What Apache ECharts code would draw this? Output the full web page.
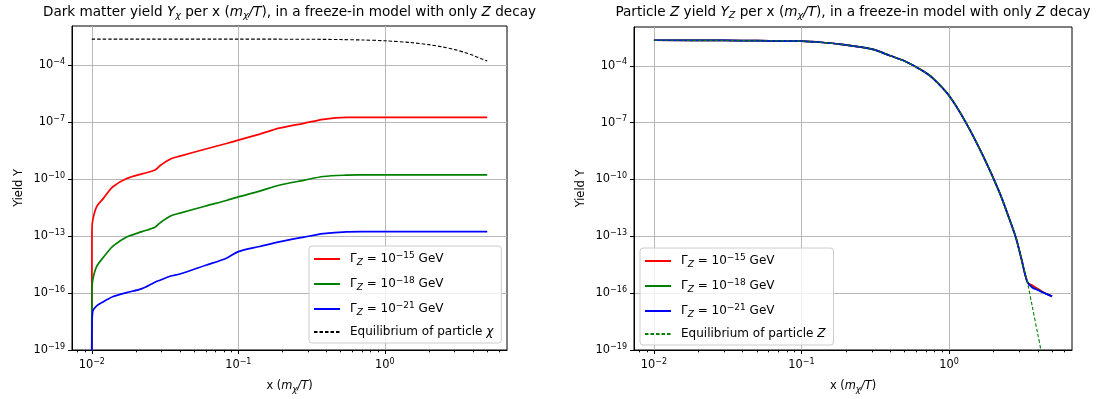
<!DOCTYPE html>
<html>
<head>
<meta charset="utf-8">
<script src="https://cdn.jsdelivr.net/npm/echarts@6/dist/echarts.min.js"></script>
<style>
  html, body { margin: 0; padding: 0; background: #fff; }
  #chart { width: 1115px; height: 399px; }
</style>
</head>
<body>
<div id="chart"></div>
<script>
  // y is drawn as log10(Y) - Y_FLOOR so that the 10^-19 floor sits at 0
  const Y_FLOOR = -19;
  const Y_TOP = -1.95;
  const X_MIN = -2.135;
  const X_MAX = 0.834;

  const yTicks = [-19, -16, -13, -10, -7, -4];
  const xTicks = [0.01, 0.1, 1];
  const xMinorTicks = [0.008, 0.009, 0.02, 0.03, 0.04, 0.05, 0.06, 0.07, 0.08, 0.09,
    0.2, 0.3, 0.4, 0.5, 0.6, 0.7, 0.8, 0.9, 2, 3, 4, 5, 6];

  // left panel: dark matter yield
  const xDm = [0.01, 0.01003, 0.01016, 0.0108, 0.012, 0.0127, 0.014, 0.0173, 0.022, 0.027,
    0.0292, 0.0342, 0.04, 0.06, 0.083, 0.1, 0.14, 0.19, 0.28, 0.38, 0.55, 0.7, 1, 2, 3, 4, 5];
  const yDm15 = [1e-20, 2e-13, 7e-13, 3.5e-12, 9.5e-12, 1.7e-11, 4.0e-11, 1.05e-10, 1.85e-10, 2.95e-10,
    5e-10, 1.1e-9, 1.6e-9, 3.8e-9, 7.4e-9, 1.1e-8, 2.3e-8, 4.7e-8, 8.5e-8, 1.38e-7, 1.74e-7, 1.76e-7,
    1.76e-7, 1.76e-7, 1.76e-7, 1.76e-7, 1.76e-7];
  const yDm18 = [1e-20, 1.5e-16, 5e-16, 2.5e-15, 7.5e-15, 1.3e-14, 3.0e-14, 8.8e-14, 1.7e-13, 2.9e-13,
    4.9e-13, 1.1e-12, 1.6e-12, 3.8e-12, 7.4e-12, 1.15e-11, 2.3e-11, 4.7e-11, 8.5e-11, 1.35e-10, 1.6e-10,
    1.64e-10, 1.65e-10, 1.65e-10, 1.65e-10, 1.65e-10, 1.65e-10];
  const yDm21 = [1e-20, 1.2e-18, 1.1e-17, 2.1e-17, 3.5e-17, 4.5e-17, 6.5e-17, 1.05e-16, 1.7e-16, 3.7e-16,
    4.7e-16, 7.6e-16, 1.0e-15, 2.9e-15, 6.8e-15, 1.5e-14, 2.8e-14, 4.9e-14, 8.7e-14, 1.32e-13, 1.66e-13,
    1.7e-13, 1.7e-13, 1.7e-13, 1.7e-13, 1.7e-13, 1.7e-13];
  const xDmEq = [0.01, 0.1, 0.3, 0.5, 0.7, 1, 1.5, 2, 2.5, 3, 3.5, 4, 4.5, 5];
  const yDmEq = [2.3e-3, 2.29e-3, 2.25e-3, 2.17e-3, 2.06e-3, 1.87e-3, 1.51e-3, 1.17e-3, 8.7e-4, 6.4e-4,
    4.6e-4, 3.2e-4, 2.2e-4, 1.6e-4];

  // right panel: particle Z yield
  const xZ = [0.01, 0.03, 0.05, 0.1, 0.14, 0.18, 0.3, 0.4, 0.5, 0.65, 0.77, 1, 1.3, 1.7, 2.2, 2.55,
    2.85, 3.1, 3.4, 3.67, 4, 4.2, 4.5, 5];
  const yZ15 = [2.24e-3, 2.19e-3, 2.12e-3, 2.0e-3, 1.7e-3, 1.4e-3, 7.6e-4, 3.4e-4, 1.8e-4, 6.0e-5, 2.4e-5,
    2.7e-6, 1.04e-7, 1.8e-9, 2.1e-11, 9.5e-13, 8e-14, 6.3e-15, 3.9e-16, 2.6e-16, 1.7e-16, 1.35e-16,
    1.0e-16, 7e-17];
  const yZ18 = [2.24e-3, 2.19e-3, 2.12e-3, 2.0e-3, 1.7e-3, 1.4e-3, 7.6e-4, 3.4e-4, 1.8e-4, 6.0e-5, 2.4e-5,
    2.7e-6, 1.04e-7, 1.8e-9, 2.1e-11, 9.5e-13, 8e-14, 6.3e-15, 3.9e-16, 2.1e-16, 1.5e-16, 1.23e-16,
    9.5e-17, 6.8e-17];
  const yZ21 = [2.24e-3, 2.19e-3, 2.12e-3, 2.0e-3, 1.7e-3, 1.4e-3, 7.6e-4, 3.4e-4, 1.8e-4, 6.0e-5, 2.4e-5,
    2.7e-6, 1.04e-7, 1.8e-9, 2.1e-11, 9.5e-13, 8e-14, 6.3e-15, 3.9e-16, 2.0e-16, 1.47e-16, 1.23e-16,
    9.5e-17, 6.8e-17];
  const yZEq = [2.24e-3, 2.19e-3, 2.12e-3, 2.0e-3, 1.7e-3, 1.4e-3, 7.6e-4, 3.4e-4, 1.8e-4, 6.0e-5, 2.4e-5,
    2.7e-6, 1.04e-7, 1.8e-9, 2.1e-11, 9.5e-13, 8e-14, 6.3e-15, 3.9e-16, 2.0e-17, 6.8e-19, 1.0e-19,
    5e-21, 1e-22];

  const FONT = 'DejaVu Sans';
  const FS = 11.4;
  const LEGEND_FS = 12;

  const legendLabels = {
    dm15: '{p|Γ}{s|Z}{t| = 10}{e|−15}{t| GeV}',
    dm18: '{p|Γ}{s|Z}{t| = 10}{e|−18}{t| GeV}',
    dm21: '{p|Γ}{s|Z}{t| = 10}{e|−21}{t| GeV}',
    dmEq: '{p|Equilibrium of particle }{i|χ}',
    z15: '{p|Γ}{s|Z}{t| = 10}{e|−15}{t| GeV}',
    z18: '{p|Γ}{s|Z}{t| = 10}{e|−18}{t| GeV}',
    z21: '{p|Γ}{s|Z}{t| = 10}{e|−21}{t| GeV}',
    zEq: '{p|Equilibrium of particle }{i|Z}'
  };

  const toPts = (xs, ys) => xs.map((x, i) => [Math.log10(x), Math.log10(ys[i]) - Y_FLOOR]);
  const supText = (e) => '{b|10}{e|' + (e < 0 ? '\u2212' + (-e) : e) + '}';

  const base = { fontFamily: FONT, color: '#000', fontWeight: 'normal' };
  const tickRich = {
    b: { ...base, fontSize: FS },
    e: { ...base, fontSize: 8, padding: [0, 0, 7, 0] }
  };
  const makeTextRich = (fs) => ({
    t: { ...base, fontSize: fs },
    p: { ...base, fontSize: fs, padding: [0, 0, 0, 5] },
    i: { ...base, fontSize: fs, fontStyle: 'italic' },
    s: { ...base, fontSize: fs * 0.75, fontStyle: 'italic', padding: [7, 0, 0, 0] },
    e: { ...base, fontSize: fs * 0.75, padding: [0, 0, 7, 0] }
  });
  const titleRich = {
    t: { ...base, fontSize: 13.6 },
    i: { ...base, fontSize: 13.6, fontStyle: 'italic' },
    s: { ...base, fontSize: 9.5, fontStyle: 'italic', padding: [8, 0, 0, 0] }
  };

  const grids = [
    { left: 72, top: 26, width: 435, height: 324 },
    { left: 634, top: 27, width: 438, height: 327 }
  ];

  function mainX(gridIndex) {
    return {
      type: 'value', gridIndex, min: X_MIN, max: X_MAX, interval: 1,
      name: '{t|x (}{i|m}{s|χ}{i|/T}{t|)}',
      nameLocation: 'middle', nameGap: 28,
      nameTextStyle: { rich: makeTextRich(FS) },
      axisLine: { show: true, onZero: false, lineStyle: { color: '#000', width: 1 } },
      axisTick: { show: true, length: 4, customValues: xTicks.map(Math.log10), lineStyle: { color: '#000' } },
      axisLabel: {
        margin: 8, customValues: xTicks.map(Math.log10),
        formatter: (v) => supText(Math.round(v)), rich: tickRich
      },
      splitLine: { show: true, lineStyle: { color: '#b0b0b0', width: 0.9 } }
    };
  }
  function minorX(gridIndex) {
    return {
      type: 'value', gridIndex, min: X_MIN, max: X_MAX, position: 'bottom',
      axisLine: { show: false },
      axisTick: { show: true, length: 2.3, customValues: xMinorTicks.map(Math.log10), lineStyle: { color: '#000' } },
      axisLabel: { show: false },
      splitLine: { show: false }
    };
  }
  function mainY(gridIndex) {
    return {
      type: 'value', gridIndex, min: 0, max: Y_TOP - Y_FLOOR, interval: 3,
      name: 'Yield Y', nameLocation: 'middle', nameGap: 47, nameRotate: 90,
      nameTextStyle: { fontFamily: FONT, fontSize: FS, color: '#000' },
      axisLine: { show: true, onZero: false, lineStyle: { color: '#000', width: 1 } },
      axisTick: { show: true, length: 4, customValues: yTicks.map((e) => e - Y_FLOOR), lineStyle: { color: '#000' } },
      axisLabel: {
        margin: 7, customValues: yTicks.map((e) => e - Y_FLOOR),
        formatter: (v) => supText(Math.round(v + Y_FLOOR)), rich: tickRich
      },
      splitLine: { show: true, lineStyle: { color: '#b0b0b0', width: 0.9 } }
    };
  }

  function line(name, xi, yi, pts, color, dashed) {
    return {
      name, type: 'line', xAxisIndex: xi, yAxisIndex: yi, data: pts,
      showSymbol: false, symbol: 'none', smooth: 0.3,
      clip: true, animation: false,
      lineStyle: dashed ? { color, width: 1.1, type: [3.5, 2] } : { color, width: 1.7 },
      itemStyle: { color }
    };
  }

  function legendFor(names, left, top) {
    return {
      orient: 'vertical', left, top, data: names, selectedMode: false,
      itemWidth: 26, itemHeight: 2, itemGap: 9,
      itemStyle: { opacity: 0 },
      formatter: (n) => legendLabels[n],
      textStyle: { fontFamily: FONT, fontSize: LEGEND_FS, color: '#000', rich: makeTextRich(LEGEND_FS) },
      backgroundColor: 'rgba(255,255,255,0.8)', borderColor: '#cccccc', borderWidth: 1,
      borderRadius: 3, padding: [5, 8, 5, 4]
    };
  }

  const chart = echarts.init(document.getElementById('chart'));
  chart.setOption({
    animation: false,
    backgroundColor: '#fff',
    title: [
      {
        text: '{t|Dark matter yield }{i|Y}{s|χ}{t| per x (}{i|m}{s|χ}{i|/T}{t|), in a freeze-in model with only }{i|Z}{t| decay}',
        left: 289.5, top: 3, padding: 0, textAlign: 'center', textVerticalAlign: 'top',
        textStyle: { fontWeight: 'normal', rich: titleRich }
      },
      {
        text: '{t|Particle }{i|Z}{t| yield }{i|Y}{s|Z}{t| per x (}{i|m}{s|χ}{i|/T}{t|), in a freeze-in model with only }{i|Z}{t| decay}',
        left: 853, top: 3, padding: 0, textAlign: 'center', textVerticalAlign: 'top',
        textStyle: { fontWeight: 'normal', rich: titleRich }
      }
    ],
    grid: grids.map((g) => ({ ...g, show: true, borderColor: '#000', borderWidth: 1, backgroundColor: '#fff' })),
    xAxis: [mainX(0), minorX(0), mainX(1), minorX(1)],
    yAxis: [mainY(0), mainY(1)],
    legend: [
      legendFor(['dm15', 'dm18', 'dm21', 'dmEq'], 309, 246),
      legendFor(['z15', 'z18', 'z21', 'zEq'], 640, 248)
    ],
    series: [
      line('dm15', 0, 0, toPts(xDm, yDm15), '#ff0000'),
      line('dm18', 0, 0, toPts(xDm, yDm18), '#008000'),
      line('dm21', 0, 0, toPts(xDm, yDm21), '#0000ff'),
      line('dmEq', 0, 0, toPts(xDmEq, yDmEq), '#000000', true),
      line('z15', 2, 1, toPts(xZ, yZ15), '#ff0000'),
      line('z18', 2, 1, toPts(xZ, yZ18), '#008000'),
      line('z21', 2, 1, toPts(xZ, yZ21), '#0000ff'),
      line('zEq', 2, 1, toPts(xZ, yZEq), '#008000', true)
    ]
  });
</script>
</body>
</html>
